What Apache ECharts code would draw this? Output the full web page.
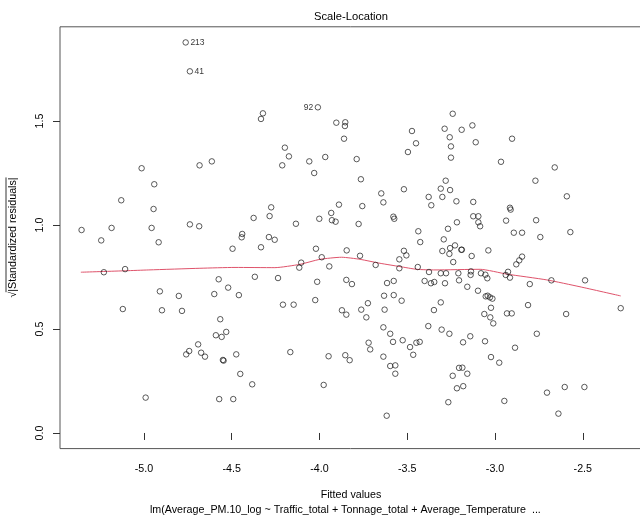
<!DOCTYPE html>
<html>
<head>
<meta charset="utf-8">
<title>Scale-Location</title>
<script src="https://cdn.jsdelivr.net/npm/echarts@6/dist/echarts.min.js"></script>
<style>
  html, body { margin: 0; padding: 0; background: #fff; }
  #chart { width: 640px; height: 523px; }
</style>
</head>
<body>
<div id="chart"></div>
<script>
// Fitted values of the model (x) and sqrt(|standardized residuals|) (y), one entry per observation
const fitted = [
  -4.762, -4.738, -4.009, -4.333, -4.322, -4.058, -4.197, -4.174, -4.212, -4.030,
  -4.613, -4.683, -5.013, -4.941, -5.129, -4.945, -5.355, -5.243, -5.184, -4.956,
  -4.916, -4.738, -4.685, -4.375, -4.275, -4.284, -4.134, -4.001, -4.440, -4.443,
  -4.288, -4.255, -4.333, -4.495, -4.020, -5.228, -5.107, -4.104, -4.115, -4.368,
  -4.236, -4.574, -4.013, -4.520, -4.909, -4.801, -4.599, -4.459, -4.024, -4.208,
  -4.147, -5.120, -4.897, -4.783, -4.565, -4.531, -4.590, -4.557, -4.691, -4.759,
  -4.742, -4.674, -4.652, -4.474, -4.550, -4.546, -4.166, -4.451, -4.383, -4.990,
  -4.571, -4.491, -3.904, -3.853, -3.855, -3.473, -3.450, -3.496, -3.860, -3.967,
  -3.788, -3.241, -3.287, -3.190, -3.129, -3.258, -3.110, -2.903, -3.251, -3.251,
  -2.966, -2.660, -3.764, -3.648, -3.519, -3.636, -3.378, -3.363, -3.889, -3.756,
  -3.933, -3.929, -3.908, -3.777, -3.579, -3.574, -3.437, -3.426, -3.845, -3.519,
  -3.505, -3.769, -3.987, -3.545, -3.680, -3.944, -3.545, -3.440, -3.376, -3.847,
  -3.815, -3.615, -3.577, -3.401, -3.365, -3.346, -3.632, -3.577, -3.532, -3.724,
  -3.872, -3.847, -3.762, -3.733, -3.629, -3.348, -3.281, -2.770, -3.309, -3.256,
  -3.300, -2.591, -3.220, -3.124, -2.915, -2.911, -3.124, -3.095, -3.095, -3.085,
  -3.217, -2.937, -2.766, -3.268, -2.893, -2.846, -2.571, -2.742, -3.292, -3.300,
  -3.256, -3.228, -3.260, -3.192, -3.189, -3.038, -3.133, -2.846, -2.862, -2.879,
  -3.238, -3.309, -3.279, -3.209, -3.137, -3.139, -3.080, -3.055, -3.044, -2.926,
  -2.939, -2.915, -2.679, -2.487, -3.285, -3.205, -2.802, -3.158, -3.097, -3.053,
  -3.042, -3.029, -3.015, -3.309, -2.812, -3.023, -2.284, -3.061, -3.027, -2.932,
  -2.905, -2.595, -3.636, -3.597, -3.581, -3.526, -3.484, -3.448, -3.429, -3.466,
  -3.380, -3.720, -3.711, -3.636, -3.597, -3.568, -3.568, -3.617, -3.948, -3.853,
  -3.828, -3.976, -3.010, -3.304, -3.260, -3.182, -3.141, -3.057, -2.762, -2.886,
  -3.023, -2.976, -3.205, -3.186, -3.158, -3.241, -3.217, -3.181, -3.266, -2.947,
  -2.704, -2.603, -2.491, -2.639
];
const sqrtAbsStdResid = [
  1.878, 1.739, 1.566, 1.510, 1.537, 1.306, 1.372, 1.330, 1.287, 1.250,
  1.306, 1.287, 1.273, 1.196, 1.119, 1.077, 0.976, 0.926, 0.986, 0.986,
  0.917, 1.003, 0.994, 1.034, 1.085, 1.043, 1.006, 1.030, 0.957, 0.941,
  0.942, 0.929, 0.893, 0.886, 0.886, 0.773, 0.788, 0.819, 0.795, 0.751,
  0.745, 0.739, 0.727, 0.699, 0.681, 0.659, 0.668, 0.663, 0.639, 0.617,
  0.617, 0.596, 0.590, 0.587, 0.547, 0.486, 0.470, 0.462, 0.426, 0.378,
  0.394, 0.386, 0.367, 0.378, 0.351, 0.348, 0.389, 0.284, 0.234, 0.170,
  0.163, 0.163, 1.492, 1.494, 1.476, 1.452, 1.393, 1.351, 1.415, 1.327,
  1.317, 1.535, 1.463, 1.458, 1.479, 1.422, 1.398, 1.415, 1.378, 1.324,
  1.304, 1.277, 1.220, 1.152, 1.172, 1.109, 1.135, 1.095, 1.098, 1.091,
  1.058, 1.023, 1.016, 1.005, 1.040, 1.030, 0.970, 0.918, 0.878, 0.876,
  0.854, 0.852, 0.845, 0.835, 0.808, 0.801, 0.792, 0.798, 0.774, 0.736,
  0.716, 0.721, 0.731, 0.731, 0.720, 0.726, 0.660, 0.663, 0.636, 0.624,
  0.590, 0.569, 0.593, 0.556, 0.593, 0.591, 1.213, 1.213, 1.175, 1.168,
  1.135, 1.138, 1.114, 1.111, 1.083, 1.074, 1.042, 1.042, 1.013, 0.994,
  1.013, 1.021, 1.023, 0.982, 0.963, 0.963, 0.966, 0.942, 0.931, 0.875,
  0.889, 0.902, 0.861, 0.881, 0.881, 0.878, 0.851, 0.848, 0.830, 0.811,
  0.822, 0.768, 0.768, 0.768, 0.777, 0.760, 0.768, 0.761, 0.744, 0.775,
  0.760, 0.747, 0.734, 0.734, 0.720, 0.734, 0.716, 0.703, 0.684, 0.657,
  0.660, 0.652, 0.646, 0.628, 0.615, 0.602, 0.600, 0.572, 0.556, 0.575,
  0.575, 0.572, 0.508, 0.477, 0.438, 0.446, 0.413, 0.434, 0.438, 0.376,
  0.514, 0.434, 0.402, 0.367, 0.322, 0.325, 0.285, 0.083, 0.369, 0.374,
  0.350, 0.231, 0.527, 0.497, 0.477, 0.436, 0.465, 0.441, 0.477, 0.410,
  0.365, 0.338, 0.313, 0.314, 0.285, 0.275, 0.215, 0.225, 0.148, 0.154,
  0.194, 0.221, 0.221, 0.093
];

// Observation numbers flagged on the plot (indices into the arrays above)
const flaggedIndex = [0, 1, 2];
const flaggedNames = ['213', '41', '92'];

// Smoothed trend through the points
const smoothX = [-5.359, -5.104, -4.972, -4.681, -4.481, -4.254, -4.111, -3.997, -3.874, -3.769,
                 -3.655, -3.541, -3.446, -3.342, -3.085, -2.933, -2.705, -2.516, -2.284];
const smoothY = [0.773, 0.780, 0.784, 0.792, 0.796, 0.795, 0.811, 0.835, 0.845, 0.835,
                 0.816, 0.800, 0.787, 0.784, 0.787, 0.764, 0.736, 0.703, 0.659];

// Axis ticks
const xTicks = [-5.0, -4.5, -4.0, -3.5, -3.0, -2.5];
const yTicks = [0.0, 0.5, 1.0, 1.5];

const titleText = 'Scale-Location';
const xTitle = 'Fitted values';
const yTitle = '\u221A|Standardized residuals|';
const subCaption = 'lm(Average_PM.10_log ~ Traffic_total + Tonnage_total + Average_Temperature  ...';

// Axis limits: data range padded by 4% on each side (y starts from 0)
const xMinData = Math.min(...fitted), xMaxData = Math.max(...fitted);
const xPad = (xMaxData - xMinData) * 0.04;
const yMaxData = Math.max(...sqrtAbsStdResid);
const yPad = yMaxData * 0.04;

const FONT = '"Liberation Sans", Arial, Helvetica, sans-serif';
const TXT = 10.7;

const points = fitted.map((x, i) => {
  const k = flaggedIndex.indexOf(i);
  const item = { value: [x, sqrtAbsStdResid[i]] };
  if (k >= 0) {
    item.label = {
      show: true,
      formatter: flaggedNames[k],
      position: k === 2 ? 'left' : 'right',
      distance: 1.5,
      fontSize: 8.5,
      fontFamily: FONT,
      color: '#000'
    };
  }
  return item;
});

const chart = echarts.init(document.getElementById('chart'), null, { renderer: 'canvas' });

// Measure the y title so the radical's overbar spans the bracketed text
const ctx = document.createElement('canvas').getContext('2d');
ctx.font = TXT + 'px ' + FONT;
const yTitleW = ctx.measureText(yTitle).width;
const radW = ctx.measureText('\u221A').width;

const axisCommon = {
  axisLine: { show: false },
  splitLine: { show: false },
  axisTick: { show: true, inside: false, length: 7, lineStyle: { color: '#333', width: 1 } },
  axisLabel: { color: '#000', fontSize: TXT, fontFamily: FONT, formatter: v => Number(v).toFixed(1) }
};

chart.setOption({
  animation: false,
  backgroundColor: '#fff',
  grid: {
    left: 60, top: 26.8, width: 582.3, height: 421.8,
    outerBoundsMode: 'none', containLabel: false,
    show: true, borderColor: '#555', borderWidth: 1, backgroundColor: 'transparent'
  },
  xAxis: Object.assign({}, axisCommon, {
    type: 'value',
    min: xMinData - xPad,
    max: xMaxData + xPad,
    axisTick: Object.assign({}, axisCommon.axisTick, { customValues: xTicks }),
    axisLabel: Object.assign({}, axisCommon.axisLabel, { customValues: xTicks, margin: 15 })
  }),
  yAxis: Object.assign({}, axisCommon, {
    type: 'value',
    min: -yPad,
    max: yMaxData + yPad,
    axisTick: Object.assign({}, axisCommon.axisTick, { customValues: yTicks }),
    axisLabel: Object.assign({}, axisCommon.axisLabel, { customValues: yTicks, rotate: 90, margin: 14 })
  }),
  series: [
    {
      type: 'scatter',
      data: points,
      symbol: 'circle',
      symbolSize: 5.5,
      itemStyle: { color: 'rgba(0,0,0,0)', borderColor: '#1a1a1a', borderWidth: 0.9 },
      emphasis: { disabled: true },
      z: 3
    },
    {
      type: 'line',
      data: smoothX.map((x, i) => [x, smoothY[i]]),
      showSymbol: false,
      smooth: 0.2,
      lineStyle: { color: '#DF536B', width: 1 },
      emphasis: { disabled: true },
      z: 2
    }
  ],
  graphic: [
    {
      type: 'text', x: 351, y: 17,
      style: { text: titleText, fill: '#000', font: '11.2px ' + FONT, align: 'center', verticalAlign: 'middle' }
    },
    {
      type: 'text', x: 351, y: 495.5,
      style: { text: xTitle, fill: '#000', font: TXT + 'px ' + FONT, align: 'center', verticalAlign: 'middle' }
    },
    {
      type: 'text', x: 150, y: 510.5,
      style: { text: subCaption, fill: '#000', font: TXT + 'px ' + FONT, align: 'left', verticalAlign: 'middle' }
    },
    {
      type: 'group', x: 13.5, y: 237.5, rotation: Math.PI / 2,
      children: [
        {
          type: 'text', x: 0, y: 0,
          style: { text: yTitle, fill: '#000', font: TXT + 'px ' + FONT, align: 'center', verticalAlign: 'middle' }
        },
        {
          type: 'line',
          shape: { x1: -yTitleW / 2 + radW - 0.5, y1: -7.5, x2: yTitleW / 2, y2: -7.5 },
          style: { stroke: '#000', lineWidth: 0.8 }
        }
      ]
    }
  ]
});
</script>
</body>
</html>
